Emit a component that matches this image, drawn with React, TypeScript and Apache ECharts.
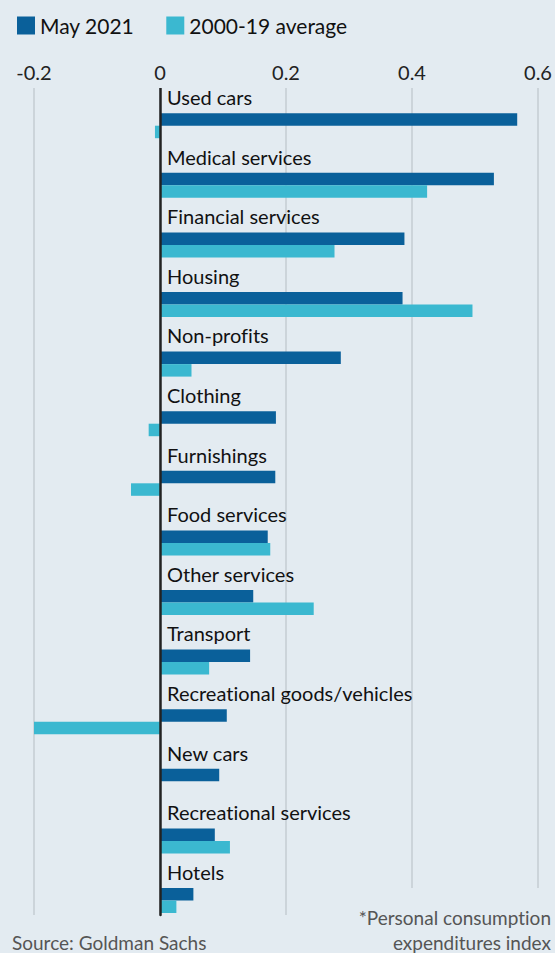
import React, { useEffect, useRef } from "react";
import * as echarts from "echarts";

const categories = [
  "Used cars",
  "Medical services",
  "Financial services",
  "Housing",
  "Non-profits",
  "Clothing",
  "Furnishings",
  "Food services",
  "Other services",
  "Transport",
  "Recreational goods/vehicles",
  "New cars",
  "Recreational services",
  "Hotels",
];
const may2021 = [0.567, 0.53, 0.388, 0.385, 0.287, 0.184, 0.183, 0.171, 0.148, 0.143, 0.106, 0.094, 0.087, 0.053];
const avg0019 = [-0.008, 0.424, 0.277, 0.496, 0.05, -0.018, -0.046, 0.175, 0.244, 0.078, -0.2, 0, 0.111, 0.026];
const spacer = categories.map(() => 0);
const seriesNames = ["May 2021", "2000-19 average"];
const xMin = -0.2;
const xMax = 0.6;
const xStep = 0.2;

const BG = "#e3ebf1";
const DARK = "#0a609a";
const LIGHT = "#3bb8d0";
const FONT = "Lato";

export default function App() {
  const ref = useRef<HTMLDivElement>(null);
  useEffect(() => {
    if (!ref.current) return;
    const chart = echarts.init(ref.current, undefined, { renderer: "svg" });
    chart.setOption({
      animation: false,
      backgroundColor: BG,
      textStyle: { fontFamily: FONT },
      legend: {
        data: seriesNames,
        left: 12,
        top: 10,
        icon: "rect",
        itemWidth: 18,
        itemHeight: 18,
        itemGap: 32,
        textStyle: { fontSize: 21, color: "#111", fontFamily: FONT },
      },
      grid: { left: 34, right: 17, top: 80.6, bottom: 38 },
      xAxis: [
        {
          type: "value",
          min: xMin,
          max: xMax,
          interval: xStep,
          position: "top",
          z: 10,
          axisLine: { show: false },
          axisTick: { show: false },
          splitLine: { show: false },
          axisLabel: {
            fontSize: 20,
            color: "#222",
            fontFamily: FONT,
            margin: -1,
            formatter: (v: number) => (Math.abs(v) < 1e-9 ? "0" : String(Math.round(v * 10) / 10)),
          },
        },
        {
          type: "value",
          min: xMin,
          max: xMax,
          interval: xStep,
          position: "top",
          z: 0,
          axisLine: { show: false },
          axisTick: { show: false },
          axisLabel: { show: false },
          splitLine: { show: true, lineStyle: { color: "#c5ccd2", width: 1.5 } },
        },
      ],
      yAxis: {
        type: "category",
        data: categories,
        inverse: true,
        z: 3,
        axisLine: { onZero: true, lineStyle: { color: "#222", width: 2.5 } },
        axisTick: { show: false },
        splitLine: { show: false },
        axisLabel: {
          inside: true,
          interval: 0,
          margin: 133,
          fontSize: 20,
          color: "#111",
          fontFamily: FONT,
          verticalAlign: "bottom",
          lineHeight: 27,
        },
      },
      series: [
        {
          name: "spacer",
          type: "bar",
          data: spacer,
          barWidth: 30.6,
          barGap: 0,
          itemStyle: { color: "transparent" },
          silent: true,
        },
        {
          name: seriesNames[0],
          type: "bar",
          data: may2021,
          barWidth: 12.5,
          barGap: 0,
          itemStyle: { color: DARK },
        },
        {
          name: seriesNames[1],
          type: "bar",
          data: avg0019,
          barWidth: 12.5,
          barGap: 0,
          itemStyle: { color: LIGHT },
        },
      ],
      graphic: [
        { type: "rect", z: 5, shape: { x: 0, y: 78, width: 555, height: 10 }, style: { fill: BG } },
        { type: "rect", z: 5, shape: { x: 345, y: 888, width: 210, height: 30 }, style: { fill: BG } },
        {
          type: "text",
          z: 6,
          x: 12,
          y: 942,
          style: { text: "Source: Goldman Sachs", font: `19px ${FONT}`, fill: "#555", textVerticalAlign: "middle", textAlign: "left" },
        },
        {
          type: "text",
          z: 6,
          x: 551,
          y: 917,
          style: { text: "*Personal consumption", font: `19px ${FONT}`, fill: "#555", textVerticalAlign: "middle", textAlign: "right" },
        },
        {
          type: "text",
          z: 6,
          x: 551,
          y: 942,
          style: { text: "expenditures index", font: `19px ${FONT}`, fill: "#555", textVerticalAlign: "middle", textAlign: "right" },
        },
      ],
    });
    return () => chart.dispose();
  }, []);
  return (
    <>
      <style>{`#chart-root, #chart-root svg, #chart-root svg text { font-variant-ligatures: none !important; font-feature-settings: "liga" 0, "clig" 0, "dlig" 0 !important; }`}</style>
      <div
        id="chart-root"
        ref={ref}
        style={{
          position: "absolute",
          left: 0,
          top: 0,
          width: 555,
          height: 953,
          background: BG,
        }}
      />
    </>
  );
}
